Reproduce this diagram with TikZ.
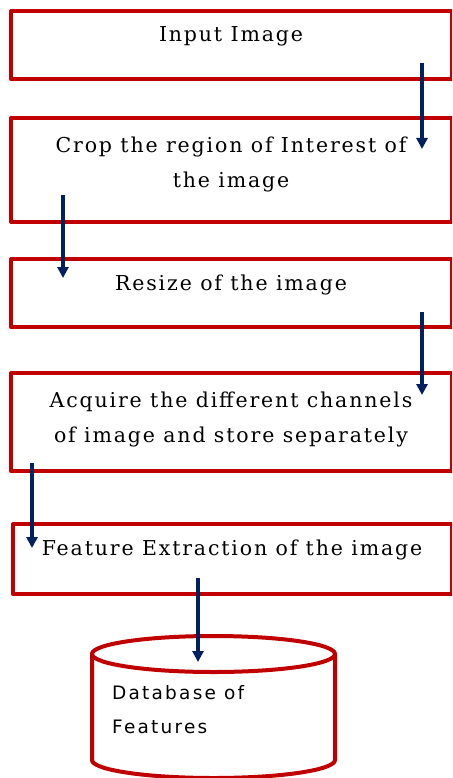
\documentclass[tikz,border=0pt]{standalone}
\usepackage{fontspec}
\newfontfamily\stepfont[LetterSpace=9]{DejaVu Serif}
\newfontfamily\dbfont[LetterSpace=12]{DejaVu Sans}
\usetikzlibrary{arrows.meta}
\definecolor{boxred}{RGB}{192,0,0}
\definecolor{flowblue}{RGB}{0,32,96}
\begin{document}
\begin{tikzpicture}[x=1pt,y=-1pt,line cap=round,line join=round,
    stage/.style={draw=boxred,line width=4pt,rectangle,inner sep=0pt},
    steptext/.style={font=\stepfont\fontsize{20.5}{35}\selectfont,align=center,anchor=base,inner sep=0pt},
    flow/.style={draw=flowblue,line width=3.5pt,line cap=butt,-{Triangle[width=11pt,length=11pt]}}]
    \useasboundingbox (0,0) rectangle (452,778);
    \clip (0,0) rectangle (452,778);
    % boxes
    \node[stage,minimum width=441pt,minimum height=68pt] (b1) at (231.5,45) {};
    \node[stage,minimum width=441pt,minimum height=104pt] (b2) at (231.5,170) {};
    \node[stage,minimum width=441pt,minimum height=68pt] (b3) at (231.5,293) {};
    \node[stage,minimum width=441pt,minimum height=98pt] (b4) at (231.5,422) {};
    \node[stage,minimum width=439pt,minimum height=70pt] (b5) at (232.5,559) {};
    % database
    \draw[boxred,line width=4pt] (92,654) -- (92,760) arc[start angle=180,end angle=360,x radius=121.5pt,y radius=18pt] -- (335,654);
    \draw[boxred,line width=4pt] (213.5,654) ellipse[x radius=121.5pt,y radius=18pt];
    % texts
    \node[steptext] (t1) at (231,42) {Input Image};
    \node[steptext] (t2) at (231,187) {Crop the region of Interest of\\the image};
    \node[steptext] (t3) at (231,290) {Resize of the image};
    \node[steptext] (t4) at (231,442) {Acquire the different channels\\of image and store separately};
    \node[steptext] (t5) at (232,555) {Feature Extraction of the image};
    \node[font=\dbfont\fontsize{18.5}{34}\selectfont,align=left,anchor=base west,inner sep=0pt] (t6) at (112,733) {Database of\\Features};
    % arrows
    \coordinate (a1s) at (422,63);  \coordinate (a1e) at (422,149);
    \coordinate (a2s) at (63,195);  \coordinate (a2e) at (63,278);
    \coordinate (a3s) at (422,312); \coordinate (a3e) at (422,395);
    \coordinate (a4s) at (32,463);  \coordinate (a4e) at (32,548);
    \coordinate (a5s) at (198,578); \coordinate (a5e) at (198,662);
    \foreach \i in {1,...,5}{\draw[flow] (a\i s) -- (a\i e);}
\end{tikzpicture}
\end{document}
